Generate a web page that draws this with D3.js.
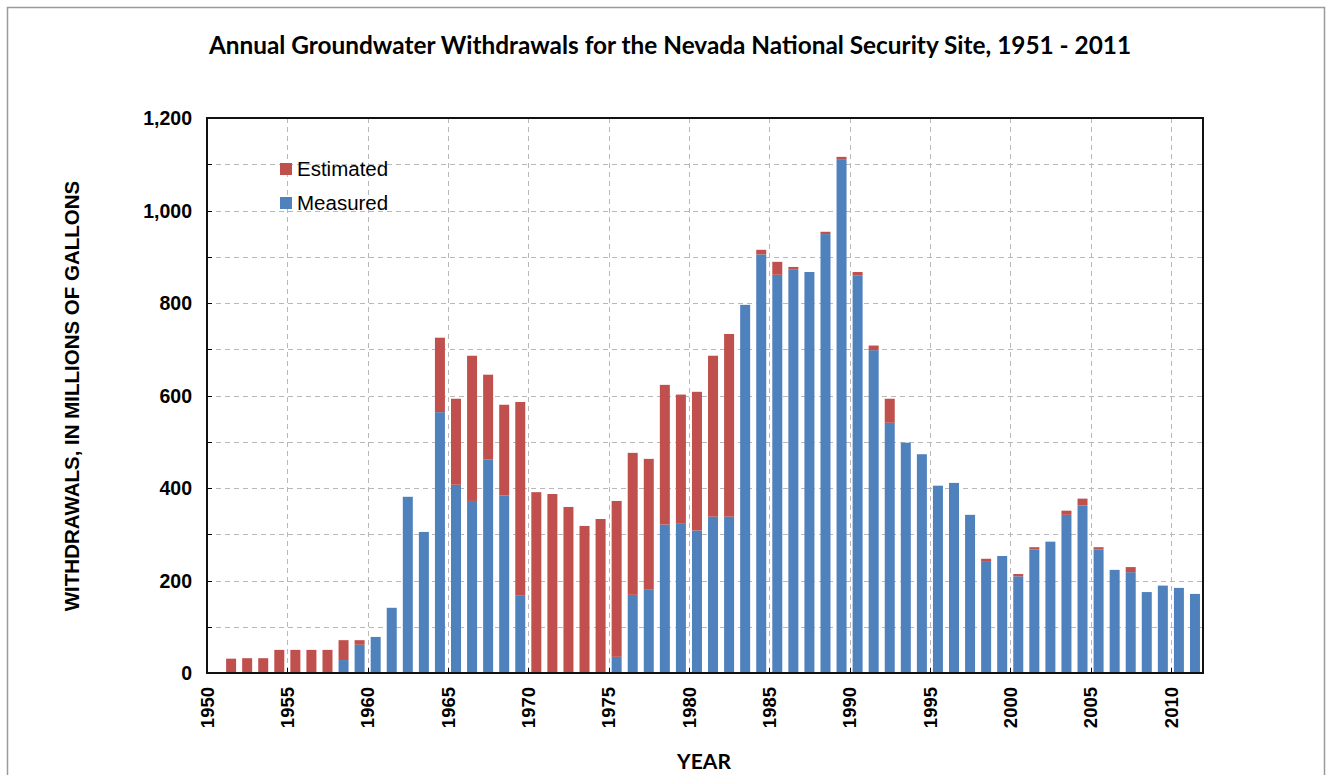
<!DOCTYPE html>
<html><head><meta charset="utf-8">
<script src="https://cdn.jsdelivr.net/npm/d3@7"></script>
<style>body{margin:0;background:#fff}svg{display:block}</style>
</head><body>
<svg id="c" width="1331" height="775"></svg>
<script>
const years = d3.range(1951, 2012);
const measured = [0,0,0,0,0,0,0,28,61,78,141,381,305,564,407,372,462,384,167,0,0,0,0,0,35,169,180,321,324,308,338,338,796,905,861,873,867,949,1111,859,698,541,498,473,405,411,342,242,253,209,267,284,342,362,267,223,218,175,189,184,171];
const estimated = [31,32,32,50,50,50,50,43,10,0,0,0,0,161,186,314,183,196,419,391,387,359,318,333,337,307,283,302,278,300,348,395,0,10,28,5,0,5,5,8,10,52,0,0,0,0,0,5,0,5,5,0,9,15,5,0,11,0,0,0,0];
const yTicks = [0,200,400,600,800,1000,1200];
const xTicks = d3.range(1950, 2011, 5);
const seriesNames = ["Estimated","Measured"];
const colors = {Estimated:"#C0504D", Measured:"#4F81BD"};

const svg = d3.select("#c");
const L=207, R=1203, T=118, B=673;
const x = d3.scaleLinear().domain([1950,2012]).range([L,R]);
const y = d3.scaleLinear().domain([0,1200]).range([B,T]);

// outer frame
svg.append("rect").attr("x",7.5).attr("y",7.5).attr("width",1317).attr("height",800)
  .attr("fill","none").attr("stroke","#9a9a9a").attr("stroke-width",1.5);

// title
const title = svg.append("text").attr("x",670).attr("y",54).attr("text-anchor","middle")
  .attr("font-family","'Liberation Sans Narrow', Lato, sans-serif").attr("font-weight","bold")
  .attr("font-size",20).attr("fill","#000")
  .text("Annual Groundwater Withdrawals for the Nevada National Security Site, 1951 - 2011");
const tw = title.node().getComputedTextLength();
title.attr("font-size", 20*923/tw);

// gridlines
const grid = svg.append("g").attr("stroke","#b8b8b8").attr("stroke-width",1).attr("stroke-dasharray","5,4");
d3.range(100,1200,100).forEach(v=>{
  grid.append("line").attr("x1",L).attr("x2",R).attr("y1",Math.round(y(v))+0.5).attr("y2",Math.round(y(v))+0.5);
});
xTicks.filter(v=>v>1950).forEach(v=>{
  grid.append("line").attr("y1",T).attr("y2",B).attr("x1",Math.round(x(v))+0.5).attr("x2",Math.round(x(v))+0.5);
});

// bars
const bw = 10;
const data = years.map((yr,i)=>({yr, m:measured[i], e:estimated[i]}));
const g = svg.append("g");
g.selectAll("rect.m").data(data.filter(d=>d.m>0)).join("rect").attr("class","m")
  .attr("x",d=>x(d.yr+0.5)-bw/2).attr("width",bw)
  .attr("y",d=>y(d.m)).attr("height",d=>y(0)-y(d.m)).attr("fill",colors.Measured);
g.selectAll("rect.e").data(data.filter(d=>d.e>0)).join("rect").attr("class","e")
  .attr("x",d=>x(d.yr+0.5)-bw/2).attr("width",bw)
  .attr("y",d=>y(d.m+d.e)).attr("height",d=>y(d.m)-y(d.m+d.e)).attr("fill",colors.Estimated);

// axes ticks
const ax = svg.append("g").attr("stroke","#000").attr("stroke-width",1);
d3.range(0,1201,100).forEach(v=>{
  ax.append("line").attr("x1",L).attr("x2",L+5).attr("y1",Math.round(y(v))+0.5).attr("y2",Math.round(y(v))+0.5);
});
xTicks.forEach(v=>{
  ax.append("line").attr("y1",B).attr("y2",B-5).attr("x1",Math.round(x(v))+0.5).attr("x2",Math.round(x(v))+0.5);
});

// plot border
svg.append("rect").attr("x",L).attr("y",T).attr("width",R-L).attr("height",B-T)
  .attr("fill","none").attr("stroke","#111").attr("stroke-width",2);

// y labels
svg.append("g").selectAll("text").data(yTicks).join("text")
  .attr("x",192).attr("y",d=>y(d)).attr("dy","0.36em").attr("text-anchor","end")
  .attr("font-family","'Liberation Sans', Arial, sans-serif").attr("font-weight","bold").attr("font-size",19.5)
  .text(d=>d3.format(",")(d));

// x labels
svg.append("g").selectAll("text").data(xTicks).join("text")
  .attr("transform",d=>`translate(${x(d)},${687}) rotate(-90)`).attr("dy","0.36em").attr("text-anchor","end")
  .attr("font-family","'Liberation Sans', Arial, sans-serif").attr("font-weight","bold").attr("font-size",18.5)
  .text(d=>d);

// axis titles
svg.append("text").attr("transform","translate(79,396) rotate(-90)").attr("text-anchor","middle")
  .attr("font-family","'Liberation Sans', Arial, sans-serif").attr("font-weight","bold").attr("font-size",20.5)
  .text("WITHDRAWALS, IN MILLIONS OF GALLONS");
svg.append("text").attr("x",704).attr("y",769).attr("text-anchor","middle")
  .attr("font-family","'Liberation Sans Narrow', Lato, sans-serif").attr("font-weight","bold").attr("font-size",21)
  .text("YEAR");

// legend
const lg = svg.append("g");
seriesNames.forEach((s,i)=>{
  const yy = 169 + i*34;
  lg.append("rect").attr("x",280).attr("y",yy-6).attr("width",12).attr("height",12).attr("fill",colors[s]);
  lg.append("text").attr("x",297).attr("y",yy).attr("dy","0.36em")
    .attr("font-family","'Liberation Sans', Arial, sans-serif").attr("font-size",20.5).text(s);
});
</script>
</body></html>
